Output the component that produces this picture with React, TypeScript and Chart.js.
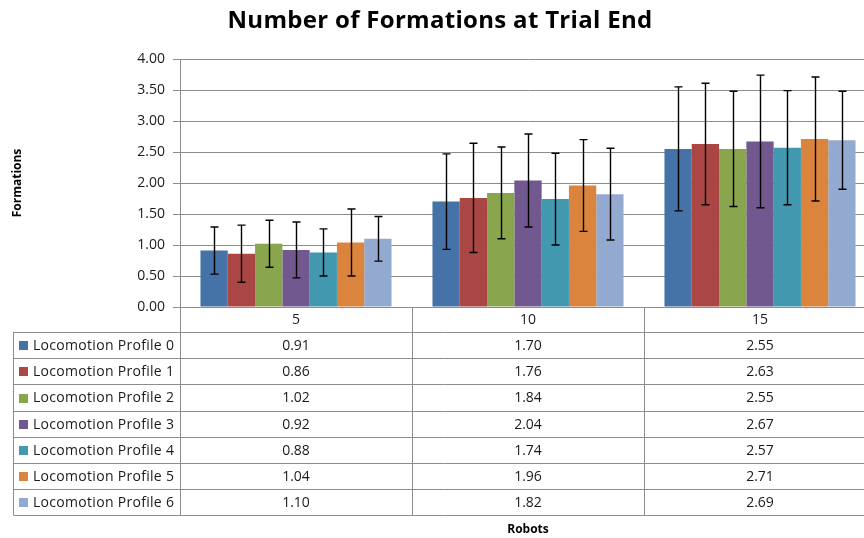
import { useEffect, useRef } from 'react';
import { Chart, registerables } from 'chart.js';

Chart.register(...registerables);

const categories = ['5', '10', '15'];
const seriesNames = [
  'Locomotion Profile 0',
  'Locomotion Profile 1',
  'Locomotion Profile 2',
  'Locomotion Profile 3',
  'Locomotion Profile 4',
  'Locomotion Profile 5',
  'Locomotion Profile 6',
];
const profile0 = [0.91, 1.70, 2.55];
const profile1 = [0.86, 1.76, 2.63];
const profile2 = [1.02, 1.84, 2.55];
const profile3 = [0.92, 2.04, 2.67];
const profile4 = [0.88, 1.74, 2.57];
const profile5 = [1.04, 1.96, 2.71];
const profile6 = [1.10, 1.82, 2.69];
const err0 = [0.38, 0.77, 1.00];
const err1 = [0.46, 0.88, 0.98];
const err2 = [0.38, 0.74, 0.93];
const err3 = [0.45, 0.75, 1.07];
const err4 = [0.38, 0.74, 0.92];
const err5 = [0.54, 0.74, 1.00];
const err6 = [0.36, 0.74, 0.79];
const yTicks = [0, 0.5, 1, 1.5, 2, 2.5, 3, 3.5, 4];

const colors = ['#4572A7', '#AA4643', '#89A54E', '#71588F', '#4198AF', '#DB843D', '#93A9CF'];
const FONT = '"Open Sans", "Noto Sans", sans-serif';
const LINE = '#8c8c8c';

const seriesValues = [profile0, profile1, profile2, profile3, profile4, profile5, profile6];
const seriesErrors = [err0, err1, err2, err3, err4, err5, err6];

const tablePlugin = {
  id: 'tableAndDecor',
  afterDatasetsDraw(chart: any) {
    const ctx = chart.ctx;
    const y = chart.scales.y;
    ctx.save();
    ctx.strokeStyle = '#000';
    ctx.lineWidth = 1.4;
    chart.data.datasets.forEach((ds: any, di: number) => {
      const meta = chart.getDatasetMeta(di);
      meta.data.forEach((bar: any, i: number) => {
        const v = ds.data[i];
        const e = seriesErrors[di][i];
        const x = Math.round(bar.x) + 0.5;
        const yt = y.getPixelForValue(v + e);
        const yb = y.getPixelForValue(v - e);
        ctx.beginPath();
        ctx.moveTo(x, yt);
        ctx.lineTo(x, yb);
        ctx.moveTo(x - 4, yt);
        ctx.lineTo(x + 4, yt);
        ctx.moveTo(x - 4, yb);
        ctx.lineTo(x + 4, yb);
        ctx.stroke();
      });
    });
    ctx.restore();
  },
  afterDraw(chart: any) {
    const ctx = chart.ctx;
    const area = chart.chartArea;
    const xs = chart.scales.x;
    const left = area.left;
    const right = area.right;
    const top = area.bottom;
    const headerH = 25;
    const rowH = 26.2;
    const legendLeft = 13.5;
    const n = categories.length;
    const colW = (right - left) / n;
    const bottom = top + headerH + rowH * seriesNames.length;
    ctx.save();
    ctx.strokeStyle = LINE;
    ctx.lineWidth = 1;
    ctx.beginPath();
    ctx.moveTo(left, Math.round(top) + 0.5);
    ctx.lineTo(right, Math.round(top) + 0.5);
    for (let r = 0; r <= seriesNames.length; r++) {
      const yy = Math.round(top + headerH + r * rowH) + 0.5;
      ctx.moveTo(legendLeft, yy);
      ctx.lineTo(right, yy);
    }
    for (let c = 0; c <= n; c++) {
      const xx = Math.round(left + c * colW) + 0.5;
      ctx.moveTo(xx, top);
      ctx.lineTo(xx, bottom);
    }
    ctx.moveTo(legendLeft, top + headerH);
    ctx.lineTo(legendLeft, bottom);
    ctx.stroke();

    ctx.fillStyle = '#1a1a1a';
    ctx.font = `14px ${FONT}`;
    ctx.textAlign = 'center';
    ctx.textBaseline = 'middle';
    categories.forEach((c, i) => {
      ctx.fillText(c, xs.getPixelForValue(i), top + headerH / 2 + 1);
    });
    seriesNames.forEach((name, r) => {
      const cy = top + headerH + r * rowH + rowH / 2 + 1;
      ctx.fillStyle = colors[r];
      ctx.fillRect(19, Math.round(cy - 5), 9, 9);
      ctx.fillStyle = '#1a1a1a';
      ctx.textAlign = 'left';
      (ctx as any).letterSpacing = '0.3px';
      ctx.fillText(name, 33, cy);
      (ctx as any).letterSpacing = '0px';
      ctx.textAlign = 'center';
      seriesValues[r].forEach((v, i) => {
        ctx.fillText(v.toFixed(2), xs.getPixelForValue(i), cy);
      });
    });

    ctx.fillStyle = '#000';
    ctx.font = `bold 24px ${FONT}`;
    ctx.textAlign = 'center';
    ctx.textBaseline = 'middle';
    (ctx as any).letterSpacing = '0.3px';
    ctx.fillText('Number of Formations at Trial End', 440, 21);
    (ctx as any).letterSpacing = '0px';
    ctx.font = `bold 12px ${FONT}`;
    ctx.fillText('Robots', (left + right) / 2, 530);
    ctx.translate(18, 183);
    ctx.rotate(-Math.PI / 2);
    ctx.fillText('Formations', 0, 0);
    ctx.restore();
  },
};

export default function App() {
  const ref = useRef<HTMLCanvasElement>(null);
  useEffect(() => {
    if (!ref.current) return;
    const chart = new Chart(ref.current, {
      type: 'bar',
      data: {
        labels: categories,
        datasets: seriesNames.map((name, i) => ({
          label: name,
          data: seriesValues[i],
          backgroundColor: colors[i],
          borderWidth: 0,
          categoryPercentage: 7 / 8.5,
          barPercentage: 1,
        })),
      },
      options: {
        responsive: false,
        animation: false,
        layout: { padding: { top: 59, bottom: 231, left: 0, right: 4 } },
        plugins: {
          legend: { display: false },
          title: { display: false },
          tooltip: { enabled: false },
        },
        scales: {
          x: {
            ticks: { display: false },
            grid: { display: false },
            border: { display: false },
            afterFit: (s: any) => {
              s.height = 0;
            },
          },
          y: {
            min: 0,
            max: 4,
            afterBuildTicks: (s: any) => {
              s.ticks = yTicks.map((v) => ({ value: v }));
            },
            ticks: {
              padding: 8,
              color: '#1a1a1a',
              font: { family: FONT, size: 14 },
              callback: (v: any) => Number(v).toFixed(2),
            },
            grid: { color: LINE, tickLength: 7, lineWidth: 1 },
            border: { display: true, color: LINE },
            afterFit: (s: any) => {
              s.width = 180;
            },
          },
        },
      },
      plugins: [tablePlugin],
    });
    return () => chart.destroy();
  }, []);
  return (
    <div style={{ position: 'fixed', left: 0, top: 0, width: 864, height: 538, overflow: 'hidden', background: '#fff' }}>
      <canvas ref={ref} width={880} height={538} style={{ width: 880, height: 538, display: 'block' }} />
    </div>
  );
}
